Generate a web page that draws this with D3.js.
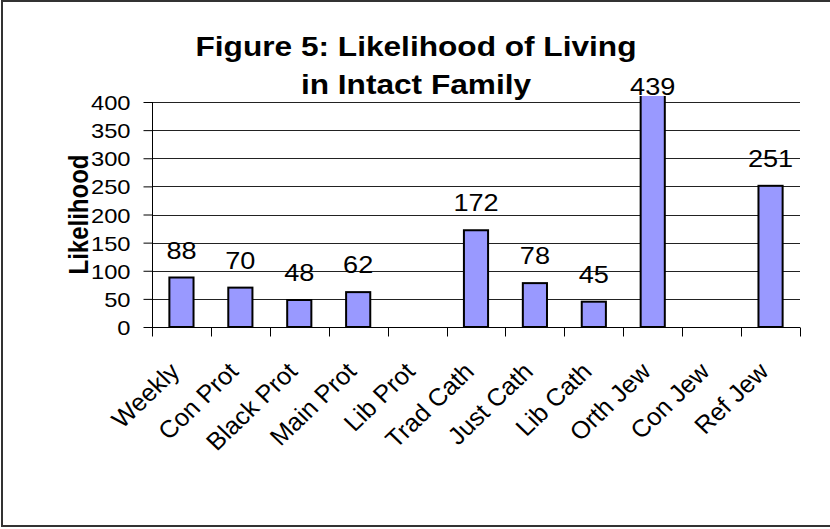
<!DOCTYPE html>
<html>
<head>
<meta charset="utf-8">
<script src="https://cdn.jsdelivr.net/npm/d3@7"></script>
<style>
  html, body { margin: 0; padding: 0; background: #fff; }
  svg { display: block; }
  text { font-family: "Liberation Sans", Arial, sans-serif; fill: #000; }
</style>
</head>
<body>
<svg id="chart" width="830" height="529"></svg>
<script>
// ---- data ----
const categories = ["Weekly", "Con Prot", "Black Prot", "Main Prot", "Lib Prot",
  "Trad Cath", "Just Cath", "Lib Cath", "Orth Jew", "Con Jew", "Ref Jew"];
const values = [88, 70, 48, 62, null, 172, 78, 45, 439, null, 251];
const yTicks = [0, 50, 100, 150, 200, 250, 300, 350, 400];
const titleLines = ["Figure 5: Likelihood of Living", "in Intact Family"];
const yTitle = "Likelihood";

// ---- layout ----
const plot = { left: 152, right: 800, top: 102, bottom: 327 };
const sx = 1.13; // horizontal stretch of the original picture

const svg = d3.select("#chart");

// outer frame
svg.append("rect")
  .attr("x", 2).attr("y", 1).attr("width", 832).attr("height", 525)
  .attr("fill", "none").attr("stroke", "#333").attr("stroke-width", 2);

const x = d3.scaleBand().domain(categories).range([plot.left, plot.right])
  .paddingInner(0.59).paddingOuter(0.295);
const xEdges = d3.scaleBand().domain(categories).range([plot.left, plot.right]);
const y = d3.scaleLinear().domain([0, 400]).range([plot.bottom, plot.top]);

// gridlines
svg.append("g")
  .selectAll("line").data(yTicks.filter(d => d > 0)).join("line")
  .attr("x1", plot.left).attr("x2", plot.right)
  .attr("y1", d => Math.round(y(d)) + 0.5).attr("y2", d => Math.round(y(d)) + 0.5)
  .attr("stroke", "#222").attr("stroke-width", 1);

// clip for plot area (bars may be clipped above the top)
svg.append("clipPath").attr("id", "plotclip")
  .append("rect").attr("x", plot.left).attr("y", y(400) - 6)
  .attr("width", plot.right - plot.left).attr("height", plot.bottom - y(400) + 6);

// bars
const data = categories.map((c, i) => ({ c, v: values[i] })).filter(d => d.v != null);
svg.append("g").attr("clip-path", "url(#plotclip)")
  .selectAll("rect").data(data).join("rect")
  .attr("x", d => x(d.c)).attr("width", x.bandwidth())
  .attr("y", d => y(d.v)).attr("height", d => y(0) - y(d.v))
  .attr("fill", "#9999FF").attr("stroke", "#000").attr("stroke-width", 2);

// y axis
const yAxis = d3.axisLeft(y).tickValues(yTicks).tickSize(9).tickPadding(13);
const gy = svg.append("g").attr("transform", `translate(${plot.left + 0.5},0)`).call(yAxis);
gy.select(".domain").attr("stroke", "#000").attr("d", `M0,${y(400)}V${y(0)}`);
gy.selectAll(".tick line").attr("stroke", "#000");
gy.selectAll(".tick text")
  .attr("font-size", 21).attr("font-family", "Liberation Sans, Arial, sans-serif")
  .attr("fill", "#000").attr("dy", "0.36em")
  .attr("transform", function () {
    const xx = +d3.select(this).attr("x");
    return `translate(${xx},0) scale(${sx},1) translate(${-xx},0)`;
  });

// x axis
const xAxis = d3.axisBottom(x).tickSize(0).tickFormat("");
const gx = svg.append("g").attr("transform", `translate(0,${plot.bottom + 0.5})`).call(xAxis);
gx.select(".domain").attr("stroke", "#000").attr("d", `M${plot.left},0H${plot.right}`);
gx.selectAll(".tick").remove();
const edges = categories.map(c => xEdges(c)).concat([plot.right]);
gx.selectAll("line.edge").data(edges).join("line").attr("class", "edge")
  .attr("x1", d => Math.round(d) + 0.5).attr("x2", d => Math.round(d) + 0.5)
  .attr("y1", 0).attr("y2", 9).attr("stroke", "#000");

// x labels (rotated)
svg.append("g").selectAll("text").data(categories).join("text")
  .attr("text-anchor", "end")
  .attr("font-size", 24.5)
  .attr("transform", d => `translate(${xEdges(d) + xEdges.bandwidth() / 2 - 0.5},${plot.bottom + 46}) scale(1.04,1) rotate(-45)`)
  .text(d => d);

// data labels
svg.append("g").selectAll("text").data(data).join("text")
  .attr("text-anchor", "middle")
  .attr("font-size", 24)
  .attr("transform", d => {
    const cx = x(d.c) + x.bandwidth() / 2;
    const by = Math.max(y(d.v) - 19, y(400) - 7);
    return `translate(${cx},${by}) scale(${sx},1)`;
  })
  .text(d => d.v);

// title
svg.append("g").selectAll("text").data(titleLines).join("text")
  .attr("text-anchor", "middle")
  .attr("font-size", 28).attr("font-weight", "bold")
  .attr("transform", (d, i) => `translate(416,${56 + i * 38}) scale(${sx},1)`)
  .text(d => d);

// y title
svg.append("text")
  .attr("text-anchor", "middle")
  .attr("font-size", 24).attr("font-weight", "bold")
  .attr("transform", `translate(88,${(y(0) + y(400)) / 2}) scale(${sx},1) rotate(-90)`)
  .text(yTitle);
</script>
</body>
</html>
